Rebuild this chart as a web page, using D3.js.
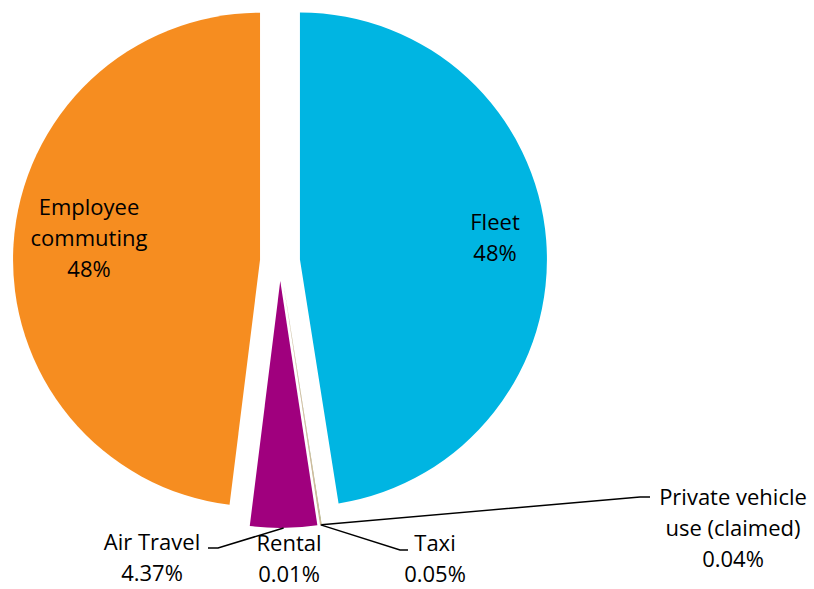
<!DOCTYPE html>
<html>
<head>
<meta charset="utf-8">
<script src="https://cdn.jsdelivr.net/npm/d3@7"></script>
<style>
  body { margin: 0; background: #fff; }
  text { font-family: "Open Sans", sans-serif; font-size: 22px; fill: #000; }
</style>
</head>
<body>
<svg id="chart" width="814" height="589"></svg>
<script>
// data
const categories = ['Fleet', 'Private vehicle use (claimed)', 'Taxi', 'Rental', 'Air Travel', 'Employee commuting'];
const values = [47.5, 0.04, 0.05, 0.01, 4.37, 48.03];
const labelLines = [
    ['Fleet', '48%'],
    ['Private vehicle', 'use (claimed)', '0.04%'],
    ['Taxi', '0.05%'],
    ['Rental', '0.01%'],
    ['Air Travel', '4.37%'],
    ['Employee', 'commuting', '48%']
];
const colors = ['#00B5E2', '#9C9A63', '#C6A67C', '#8A6E4B', '#A0007E', '#F68D20'];

const svg = d3.select('#chart');
const cx = 280, cy = 261, radius = 247, explode = 20;

const pie = d3.pie().sort(null).value(d => d.value);
const arcs = pie(categories.map((c, i) => ({ name: c, value: values[i], color: colors[i], lines: labelLines[i] })));
const arc = d3.arc().innerRadius(0).outerRadius(radius);

// offset of each exploded slice along its bisector
const shift = d => {
    const a = (d.startAngle + d.endAngle) / 2;
    return [explode * Math.sin(a), -explode * Math.cos(a)];
};

const g = svg.append('g').attr('transform', `translate(${cx},${cy})`);

g.selectAll('path.slice')
    .data(arcs)
    .join('path')
    .attr('class', 'slice')
    .attr('d', arc)
    .attr('fill', d => d.data.color)
    .attr('transform', d => `translate(${shift(d)})`);

// label placement (text centre x, first baseline y) and leader elbows
const labelPos = {
    'Fleet': { x: 495, y: 230 },
    'Employee commuting': { x: 89, y: 215 },
    'Air Travel': { x: 152, y: 550 },
    'Rental': { x: 289, y: 551 },
    'Taxi': { x: 435, y: 551 },
    'Private vehicle use (claimed)': { x: 733, y: 505 }
};
const leaders = {
    'Air Travel': [[218, 548], [208, 548]],
    'Taxi': [[400, 550], [408, 550]],
    'Private vehicle use (claimed)': [[640, 497], [650, 497]]
};

const lineHeight = 31;

arcs.forEach(d => {
    const p = labelPos[d.data.name];
    const t = svg.append('text')
        .attr('text-anchor', 'middle')
        .attr('x', p.x)
        .attr('y', p.y);
    d.data.lines.forEach((s, i) => {
        t.append('tspan').attr('x', p.x).attr('dy', i === 0 ? 0 : lineHeight).text(s);
    });

    const elbow = leaders[d.data.name];
    if (elbow) {
        const a = (d.startAngle + d.endAngle) / 2;
        const [sx, sy] = shift(d);
        const start = [cx + sx + radius * Math.sin(a), cy + sy - radius * Math.cos(a)];
        svg.append('path')
            .attr('d', d3.line()([start, ...elbow]))
            .attr('fill', 'none')
            .attr('stroke', '#000')
            .attr('stroke-width', 1.5);
    }
});
</script>
</body>
</html>
